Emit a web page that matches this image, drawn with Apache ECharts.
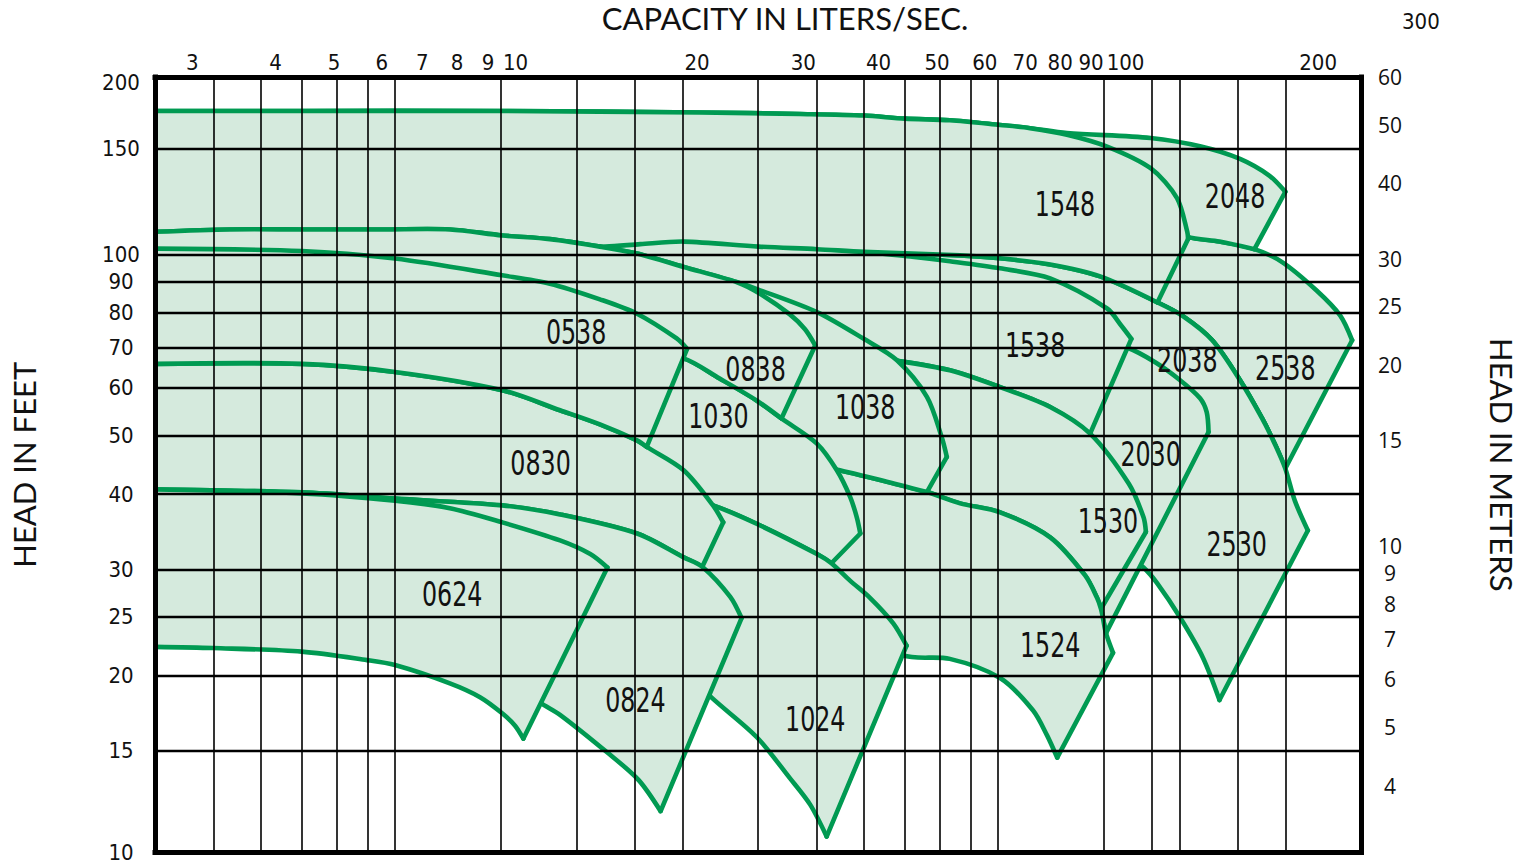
<!DOCTYPE html>
<html><head><meta charset="utf-8">
<script src="https://cdn.jsdelivr.net/npm/echarts@6/dist/echarts.min.js"></script>
<style>html,body{margin:0;padding:0;background:#fff}#c{width:1525px;height:865px}</style>
</head><body><div id="c"></div>
<script>
// ---- tick values ----
const capTicksLps = [3,4,5,6,7,8,9,10,20,30,40,50,60,70,80,90,100,200];
const capGridGpm = [50,60,70,80,90,100,150,200,250,300,400,500,600,700,800,900,1000,1500,1800,2000,2500,3000];
const headTicksFt = [15,20,25,30,40,50,60,70,80,90,100,150];
const headEndTicksFt = [10,200];
const headGridFt = [15,20,25,30,40,50,60,70,80,90,100,150];
const headTicksM = [4,5,6,7,8,9,10,15,20,25,30,40,50,60];

// ---- curves: [capacity L/s, head ft] ----
const curveT175 = [[2.52,173],[4.39,173],[9.42,173],[20.2,172],[29.6,171],[37.8,170],[44.2,168],[52.5,167],[63.6,164],[71.3,162]];
const top1548ext = [[82.1,158],[95.7,151],[113,139],[125,124],[130,109],[130.4,106]];
const top2048ext = [[82.1,159],[113,156],[137,151],[159,144],[178,135],[189,127]];
const bot2048 = [[2.52,133],[43.4,133],[93.2,123],[130,107],[147,105],[168,102]];
const top2538 = [[2.52,123],[63.6,121],[113,112],[130,107],[147,105],[168,102],[187,97.0],[213,87.1],[233,79.2],[244,72.0]];
const curveC = [[2.52,106],[6.43,104],[11.4,103],[14.1,103],[16.1,104],[19.0,105],[25.3,103],[31.6,102],[37.8,101],[54.6,99.6],[63.6,98.5],[77.0,96.2],[93.2,91.9],[116,83.2]];
const curveE1 = [[128,78.9],[143,72.0],[159,61.8],[173,53.4],[182,48.2],[189,44.1]];
const tail2530 = [[196,39.0],[206,34.8]];
const bot2530 = [[2.52,69.3],[20.2,57.2],[43.4,49.1],[63.6,43.8],[93.2,34.8],[110,30.2],[116,28.4],[126.5,24.95],[138,21.4],[147,18.2]];
const curveF = [[2.52,94.1],[9.42,90.5],[20.2,85.5],[38.7,82.3],[63.6,77.7],[86.3,73.4],[103,70.1],[115,66.2],[126.5,61.8],[136.5,57.7],[140,54.7],[141,50.7]];
const top1538 = [[2.52,107],[9.42,106],[20.2,107],[32.0,104],[37.8,101],[45.1,99.2],[52.5,97.4],[63.6,94.8],[77.0,91.2],[95.7,81.3],[101,76.2],[105,72.4]];
const curve1530top = [[2.52,87.1],[9.42,83.9],[20.2,77.7],[35.9,68.0],[42.3,66.7],[52.5,64.2],[63.6,60.2],[77.0,55.8],[89.7,50.4]];
const ext1530 = [[104,41.6],[110,36.6],[111,34.6]];
const curveK = [[2.52,59.5],[6.43,57.2],[13.8,51.0],[20.2,49.1],[27.5,46.4],[34.5,43.8],[40.7,42.1],[48.1,40.3],[54.6,38.6],[63.6,37.3],[77.0,33.9],[88.0,29.3],[92.1,26.9],[93.5,25.8],[94.2,24.9],[95.3,23.5],[97.9,21.8]];
const bot1524 = [[2.52,39.0],[6.43,37.6],[13.8,32.3],[24.5,27.7],[35.9,24.7],[43.9,21.6],[52.5,21.3],[63.6,19.8],[72.1,17.5],[76.1,15.9],[79.1,14.6]];
const curveA = [[2.52,109],[3.36,110],[4.42,110],[6.03,110],[7.78,110],[9.50,107.5],[11.4,106],[13.8,103],[15.9,100.3],[19.0,95.3],[23.3,89.9]];
const branch0838 = [[25.4,86.1],[28.5,79.5],[30.2,75.1],[31.4,70.6]];
const branch1038 = [[25.2,87.5],[31.6,80.2],[37.8,72.4],[42.9,66.7],[48.1,58.0],[50.9,49.7],[51.9,46.1]];
const curve1030top = [[2.52,80.7],[6.43,77.7],[13.8,72.0],[19.0,67.2],[21.8,62.2],[25.1,57.2],[27.6,53.4],[31.6,48.5],[34.1,43.8],[35.9,39.5],[36.8,36.6],[37.3,34.4]];
const curve1030bot = [[2.52,51.0],[6.43,49.1],[13.8,43.8],[21.25,38.3],[25.1,35.7],[31.6,31.8],[33.4,30.7],[35.9,28.7],[38.7,26.9],[42.3,24.4],[44.5,22.4]];
const bot1024 = [[2.52,31.0],[6.43,29.9],[13.8,24.7],[19.5,20.0],[21.1,18.4],[25.1,15.8],[28.5,13.5],[30.8,12.2],[32.8,10.8]];
const curve65 = [[2.52,65.8],[4.42,65.8],[6.31,63.8],[9.50,59.5],[11.85,55.1],[13.8,52.2],[15.9,49.1],[16.5,47.9],[19.0,43.8],[21.25,38.3],[22.1,35.9]];
const curveB = [[2.52,102.2],[4.42,101.3],[6.31,98.4],[9.50,92.3],[11.4,89.4],[13.8,84.2],[15.9,79.7],[18.5,72.5],[19.25,69.7]];
const curve40u = [[2.52,40.7],[4.42,40.25],[6.31,39.3],[9.50,38.3],[11.85,37.0],[15.9,34.4],[19.0,31.4],[20.4,30.3],[22.7,27.0],[23.7,24.9]];
const bot0824 = [[2.52,26.6],[5.31,25.6],[7.78,22.9],[9.79,19.6],[11.0,18.0],[11.85,17.2],[14.3,14.8],[16.0,13.4],[17.4,11.9]];
const curve40l = [[2.52,40.7],[4.42,40.1],[6.31,39.0],[7.78,37.9],[9.50,35.9],[11.85,33.5],[13.3,31.8],[14.2,30.2]];
const bot0624 = [[2.52,22.3],[3.15,22.2],[4.42,21.9],[5.67,21.2],[6.31,20.8],[7.78,19.4],[8.73,18.4],[9.50,17.3],[9.98,16.5],[10.3,15.7]];

// ---- model labels ----
const labelNames = ['0538','0838','1030','1038','0830','0624','0824','1024','1524','1530','1538','2030','2038','2538','2530','1548','2048'];
const labelQ = [12.6,25.0,21.7,38.0,11.0,7.85,15.8,31.4,77.0,96.0,72.7,113,130,189,157,81.5,156];
const labelH = [74.2,64.4,53.8,55.7,45.0,27.3,18.2,16.9,22.4,36.0,70.6,46.6,66.7,64.7,33.0,121,125];

const upTo = (arr, q) => arr.filter(p => p[0] <= q + 1e-9);

// drawing order: first = bottom-most
const pumps = [
  {name:'2538', top: top2538, bottom: curveC.concat(curveE1)},
  {name:'2048', top: curveT175.concat(top2048ext), bottom: bot2048},
  {name:'2038', top: curveC.concat(curveE1), bottom: curveF},
  {name:'2530', top: curveC.concat(curveE1, tail2530), bottom: bot2530},
  {name:'2030', top: curveF, bottom: upTo(curveK, 95.3)},
  {name:'1538', top: top1538, bottom: curve1530top},
  {name:'1548', top: curveT175.concat(top1548ext), bottom: curveC},
  {name:'1530', top: curve1530top.concat(ext1530), bottom: upTo(curveK, 93.5)},
  {name:'1524', top: curveK, bottom: bot1524},
  {name:'1038', top: curveA.concat(branch1038), bottom: upTo(curveK, 48.1)},
  {name:'1030', top: curve1030top, bottom: upTo(curve1030bot, 33.4)},
  {name:'1024', top: curve1030bot, bottom: bot1024},
  {name:'0838', top: curveA.concat(branch0838), bottom: upTo(curve1030top, 27.6)},
  {name:'0830', top: curve65, bottom: upTo(curve40u, 20.4)},
  {name:'0824', top: curve40u, bottom: bot0824},
  {name:'0538', top: curveB, bottom: upTo(curve65, 16.5)},
  {name:'0624', top: curve40l, bottom: bot0624}
];

const GREEN = '#009a52', FILL = '#d5eadd', INK = '#111';
const COND = "'DejaVu Sans Condensed','Liberation Sans Narrow',sans-serif";
const LPS_PER_GPM = 15.850323;
const FT_PER_M = 3.28084;
const FT_MIN = 10.16, FT_MAX = 197.0;

const chart = echarts.init(document.getElementById('c'), null, {renderer: 'svg', width: 1525, height: 865});

function renderPump(params, api) {
  const p = pumps[params.dataIndex];
  const top = p.top.map(d => api.coord(d));
  const bot = p.bottom.map(d => api.coord(d));
  const poly = top.concat(bot.slice().reverse());
  const a = top[top.length - 1], b = bot[bot.length - 1];
  const ls = {stroke: GREEN, lineWidth: 4.6, fill: null, lineCap: 'round', lineJoin: 'round'};
  return {type: 'group', children: [
    {type: 'polygon', shape: {points: poly}, style: {fill: FILL, stroke: null}},
    {type: 'polyline', shape: {points: top, smooth: 0.3}, style: ls},
    {type: 'polyline', shape: {points: bot, smooth: 0.3}, style: ls},
    {type: 'line', shape: {x1: a[0], y1: a[1], x2: b[0], y2: b[1]}, style: ls}
  ]};
}

function renderLabel(params, api) {
  const pt = api.coord([labelQ[params.dataIndex], labelH[params.dataIndex]]);
  return {type: 'text', x: pt[0], y: pt[1], scaleX: 0.8, style: {
    text: labelNames[params.dataIndex], align: 'center', verticalAlign: 'middle',
    fontSize: 33, fontFamily: COND, fill: INK
  }};
}

const frame = {show: true, onZero: false, lineStyle: {color: '#000', width: 5, cap: 'square'}};
const fmt = v => String(Math.round(v));
const tickFont = {fontFamily: COND, fontSize: 22, color: INK};
const topFmt = v => {
  const r = Math.round(v);
  if (r === 3) return '{l3|3}';
  if (r === 100) return '{r100|100}';
  if (r === 200) return '{r200|200}';
  return String(r);
};
const endFmt = v => Math.round(v) === 200 ? '{t|200}' : String(Math.round(v));

chart.setOption({
  animation: false,
  backgroundColor: '#fff',
  title: {
    text: 'CAPACITY IN LITERS/SEC.', left: 785, top: 2, textAlign: 'center', padding: 0,
    textStyle: {fontFamily: 'Lato', fontSize: 31, fontWeight: 'normal', color: INK}
  },
  graphic: [{type: 'text', left: 1402, top: 10, style: {text: '300', font: '22px ' + COND, fill: INK}}],
  grid: {left: 155, right: 164, top: 77, bottom: 12.5, containLabel: false, outerBoundsMode: 'none', show: false},
  xAxis: [
    {type: 'log', position: 'top', min: 40 / LPS_PER_GPM, max: 4000 / LPS_PER_GPM, z: 5,
     axisLine: frame, axisTick: {show: false},
     axisLabel: Object.assign({customValues: capTicksLps, formatter: topFmt, margin: 15,
                 verticalAlign: 'middle', hideOverlap: false,
                 rich: {
                   l3: Object.assign({padding: [0, 16, 0, 0]}, tickFont),
                   r100: Object.assign({padding: [0, 0, 0, 14]}, tickFont),
                   r200: Object.assign({padding: [0, 0, 0, 36]}, tickFont)
                 }}, tickFont),
     splitLine: {show: false}},
    {type: 'log', position: 'bottom', min: 40, max: 4000, z: 5,
     axisLine: frame, axisTick: {show: false, customValues: capGridGpm},
     axisLabel: {show: false},
     splitLine: {show: true, lineStyle: {color: '#000', width: 1.6}}}
  ],
  yAxis: [
    {type: 'log', position: 'left', min: FT_MIN, max: FT_MAX, z: 5,
     name: 'HEAD IN FEET', nameLocation: 'middle', nameRotate: 90, nameGap: 116,
     nameTextStyle: {fontFamily: 'Lato', fontSize: 31, color: INK},
     axisLine: frame, axisTick: {show: false, customValues: headGridFt},
     axisLabel: Object.assign({customValues: headTicksFt, formatter: fmt, align: 'center', margin: 34,
                 padding: [8, 0, 0, 0], hideOverlap: false}, tickFont),
     splitLine: {show: true, lineStyle: {color: '#000', width: 2.4}}},
    {type: 'log', position: 'right', min: FT_MIN / FT_PER_M, max: FT_MAX / FT_PER_M, z: 5,
     name: 'HEAD IN METERS', nameLocation: 'middle', nameRotate: -90, nameGap: 125,
     nameTextStyle: {fontFamily: 'Lato', fontSize: 31, color: INK},
     axisLine: frame, axisTick: {show: false},
     axisLabel: {customValues: headTicksM, formatter: fmt, fontFamily: "'Open Sans',sans-serif", fontSize: 21, color: INK,
                 align: 'center', margin: 29, padding: [0, 0, 6, 0], hideOverlap: false},
     splitLine: {show: false}},
    {type: 'log', position: 'left', min: 10, max: 200, z: 5,
     axisLine: {show: false}, axisTick: {show: false},
     axisLabel: Object.assign({customValues: headEndTicksFt, formatter: endFmt, align: 'center', margin: 34,
                 lineHeight: 18, hideOverlap: false,
                 rich: {t: Object.assign({padding: [10, 0, 0, 0]}, tickFont)}}, tickFont),
     splitLine: {show: false}}
  ],
  series: [
    {type: 'custom', name: 'pumps', coordinateSystem: 'cartesian2d', xAxisIndex: 0, yAxisIndex: 0,
     renderItem: renderPump, data: pumps.map(p => p.top[0]), z: 2, silent: true, clip: true},
    {type: 'custom', name: 'labels', coordinateSystem: 'cartesian2d', xAxisIndex: 0, yAxisIndex: 0,
     renderItem: renderLabel, data: labelNames.map((n, i) => [labelQ[i], labelH[i]]), z: 8, silent: true}
  ]
});
</script></body></html>
